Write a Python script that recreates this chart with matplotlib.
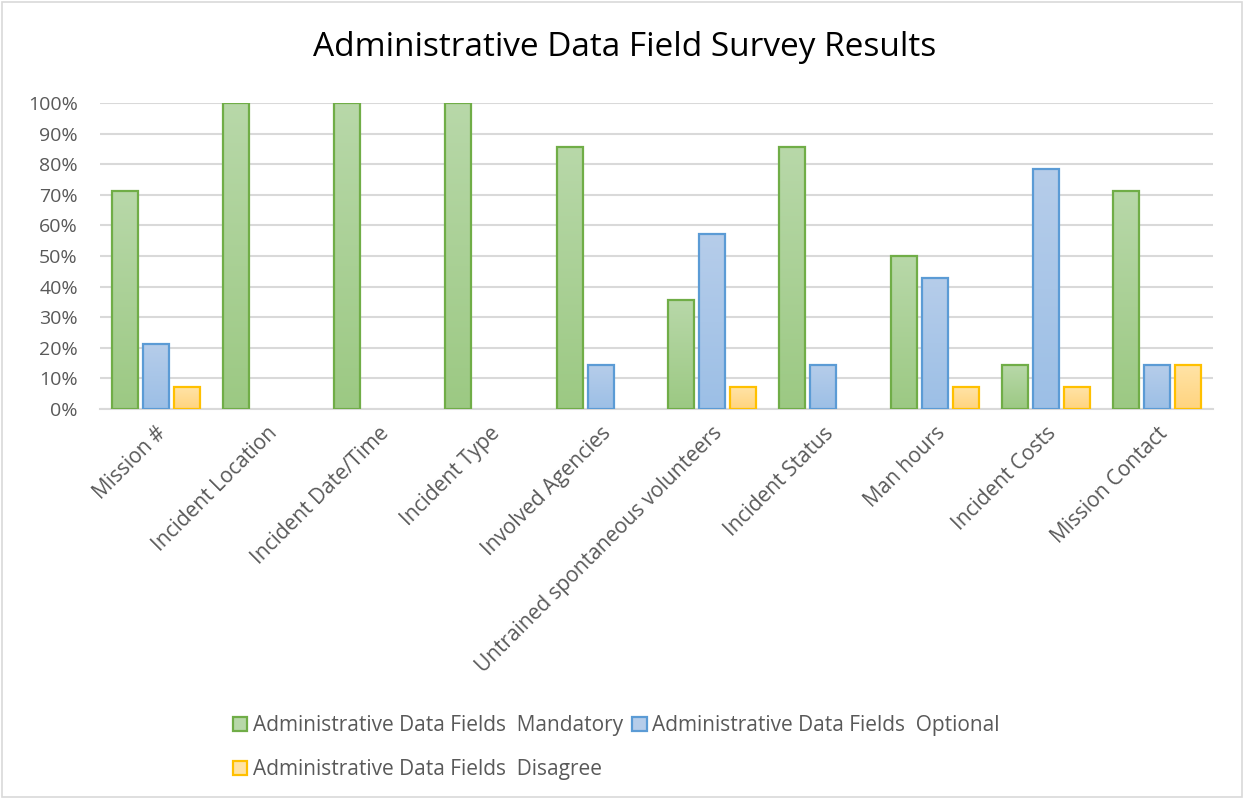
import numpy as np
import matplotlib.pyplot as plt
import matplotlib.patches as patches
from matplotlib.colors import LinearSegmentedColormap
from matplotlib.ticker import PercentFormatter

plt.rcParams['font.family'] = ['Open Sans', 'DejaVu Sans']

categories = ["Mission #", "Incident Location", "Incident Date/Time", "Incident Type",
              "Involved Agencies", "Untrained spontaneous volunteers", "Incident Status",
              "Man hours", "Incident Costs", "Mission Contact"]
mandatory = [0.714, 1.0, 1.0, 1.0, 0.857, 0.357, 0.857, 0.500, 0.143, 0.714]
optional = [0.214, 0.0, 0.0, 0.0, 0.143, 0.571, 0.143, 0.429, 0.786, 0.143]
disagree = [0.071, 0.0, 0.0, 0.0, 0.0, 0.071, 0.0, 0.071, 0.071, 0.143]
series_names = ["Administrative Data Fields  Mandatory",
                "Administrative Data Fields  Optional",
                "Administrative Data Fields  Disagree"]

# (edge, top fill, bottom fill)
styles = [("#70ad47", "#b8d8a9", "#9cc983"),
          ("#5b9bd5", "#b6cdea", "#9cbfe6"),
          ("#ffc000", "#ffe3a6", "#ffd47f")]

fig = plt.figure(figsize=(12.44, 7.99), dpi=100)
ax = fig.add_axes([0.0804, 0.488, 0.8946, 0.383])

x = np.arange(len(categories))
width = 0.234
offsets = [-width - 0.045, 0, width + 0.045]

handles = []
for vals, off, (edge, top, bot), name in zip([mandatory, optional, disagree], offsets, styles, series_names):
    cmap = LinearSegmentedColormap.from_list("g", [bot, top])
    grad = np.linspace(0, 1, 256).reshape(-1, 1)
    for xi, v in zip(x, vals):
        if v <= 0:
            continue
        rect = patches.Rectangle((xi + off - width / 2, 0), width, v,
                                 facecolor="none", edgecolor=edge, linewidth=1.6, zorder=3)
        ax.add_patch(rect)
        im = ax.imshow(grad, cmap=cmap, aspect="auto", origin="lower",
                       extent=(xi + off - width / 2, xi + off + width / 2, 0, v), zorder=2)
        im.set_clip_path(rect)
    handles.append(patches.Patch(facecolor=top, edgecolor=edge, linewidth=1.6, label=name))

ax.set_xlim(-0.5, len(categories) - 0.5)
ax.set_ylim(0, 1.0)
ax.set_yticks(np.arange(0, 1.01, 0.1))
ax.yaxis.set_major_formatter(PercentFormatter(1.0, decimals=0))
ax.grid(axis="y", color="#d9d9d9", linewidth=1.5, zorder=0)
ax.set_axisbelow(True)
for s in ["top", "right", "left"]:
    ax.spines[s].set_visible(False)
ax.spines["bottom"].set_color("#d9d9d9")
ax.spines["bottom"].set_linewidth(1.5)

ax.set_xticks(x)
ax.set_xticklabels(categories, rotation=45, ha="right", rotation_mode="anchor",
                   fontsize=15, color="#595959")
ax.tick_params(axis="y", length=0, labelsize=14, colors="#595959", pad=16)
ax.tick_params(axis="x", length=0, colors="#595959", pad=10)

fig.text(0.502, 0.941, "Administrative Data Field Survey Results", fontsize=24,
         ha="center", va="center")

order = [handles[0], handles[2], handles[1]]
fig.legend(order, [h.get_label() for h in order], ncol=2, loc="lower left",
           bbox_to_anchor=(0.172, 0.0), frameon=False, fontsize=15,
           labelcolor="#595959", handlelength=0.7, handleheight=0.7,
           handletextpad=0.25, columnspacing=0.45, labelspacing=1.1)

fig.add_artist(patches.Rectangle((0.002, 0.002), 0.996, 0.996, transform=fig.transFigure,
                                 fill=False, edgecolor="#d9d9d9", linewidth=1.2))

fig.savefig("out.png", dpi=100)
